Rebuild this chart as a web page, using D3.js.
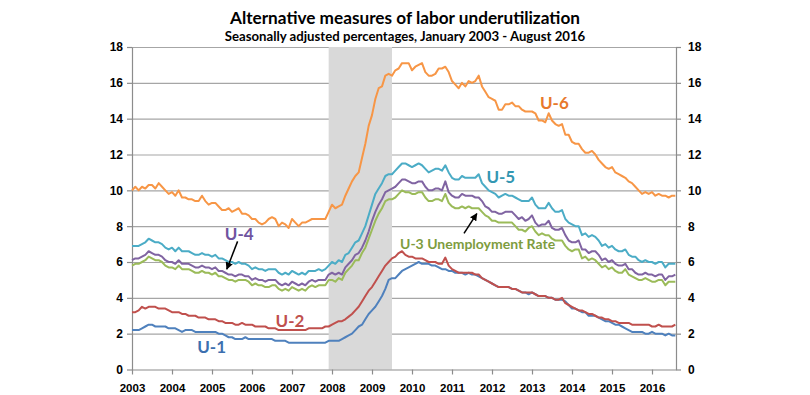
<!DOCTYPE html>
<html>
<head>
<meta charset="utf-8">
<title>Alternative measures of labor underutilization</title>
<script src="https://cdn.jsdelivr.net/npm/d3@7"></script>
<style>
  html, body { margin: 0; padding: 0; background: #fff; }
  svg { display: block; font-family: Lato, "Open Sans", sans-serif; }
  .grid line { stroke: #a6a6a6; stroke-width: 1.2; }
  .grid path { display: none; }
  .axis path, .axis line { stroke: #8c8c8c; stroke-width: 1.2; }
  .axis text { font-weight: bold; fill: #000; font-size: 11.5px; }
  .axis.y text { font-size: 12px; }
  .series { fill: none; stroke-width: 2; stroke-linejoin: round; }
  .note { font-weight: bold; }
</style>
</head>
<body>
<svg id="chart" width="810" height="395"></svg>
<script>
// tick labels
var years = [2003, 2004, 2005, 2006, 2007, 2008, 2009, 2010, 2011, 2012, 2013, 2014, 2015, 2016];
var yTicks = [0, 2, 4, 6, 8, 10, 12, 14, 16, 18];

// recession shading, Dec 2007 - Jun 2009 (fractional years)
var recession = [2007 + 11 / 12, 2009.5];

// monthly values, Jan 2003 - Aug 2016, one row per year
var u1 = [
  2.2, 2.2, 2.2, 2.3, 2.4, 2.5, 2.5, 2.4, 2.4, 2.4, 2.4, 2.3,
  2.3, 2.3, 2.2, 2.1, 2.2, 2.2, 2.2, 2.1, 2.1, 2.1, 2.1, 2.1,
  2.1, 2.1, 2.0, 2.0, 1.9, 1.8, 1.8, 1.7, 1.7, 1.7, 1.8, 1.7,
  1.7, 1.7, 1.7, 1.7, 1.7, 1.7, 1.7, 1.6, 1.6, 1.6, 1.6, 1.5,
  1.5, 1.5, 1.5, 1.5, 1.5, 1.5, 1.5, 1.5, 1.5, 1.5, 1.5, 1.6,
  1.6, 1.6, 1.6, 1.7, 1.8, 1.9, 2.0, 2.2, 2.4, 2.5, 2.8, 3.1,
  3.3, 3.5, 3.8, 4.1, 4.5, 5.0, 5.1, 5.1, 5.3, 5.5, 5.6, 5.7,
  5.8, 5.9, 6.0, 5.9, 5.9, 5.9, 5.8, 5.8, 5.7, 5.6, 5.6, 5.5,
  5.5, 5.4, 5.4, 5.4, 5.3, 5.4, 5.3, 5.3, 5.2, 5.1, 5.0, 4.9,
  4.8, 4.7, 4.6, 4.6, 4.6, 4.6, 4.5, 4.5, 4.4, 4.3, 4.3, 4.2,
  4.3, 4.2, 4.1, 4.1, 4.1, 4.0, 4.0, 3.9, 3.9, 3.9, 3.8, 3.6,
  3.4, 3.4, 3.3, 3.2, 3.2, 3.0, 3.0, 3.0, 2.9, 2.8, 2.7, 2.7,
  2.6, 2.5, 2.5, 2.4, 2.3, 2.2, 2.1, 2.1, 2.1, 2.1, 2.0, 2.0,
  2.1, 2.0, 2.0, 2.0, 1.9, 2.0, 1.9, 1.9
];
var u2 = [
  3.2, 3.2, 3.3, 3.5, 3.4, 3.5, 3.5, 3.5, 3.4, 3.4, 3.4, 3.3,
  3.2, 3.2, 3.2, 3.1, 3.1, 3.0, 3.0, 3.0, 2.9, 2.9, 2.9, 2.8,
  2.8, 2.8, 2.7, 2.7, 2.6, 2.6, 2.6, 2.5, 2.5, 2.6, 2.5, 2.5,
  2.5, 2.4, 2.4, 2.4, 2.4, 2.3, 2.3, 2.3, 2.2, 2.2, 2.2, 2.2,
  2.2, 2.2, 2.2, 2.2, 2.2, 2.3, 2.3, 2.3, 2.3, 2.3, 2.4, 2.4,
  2.5, 2.6, 2.7, 2.7, 2.8, 2.95, 3.1, 3.3, 3.5, 3.8, 4.1, 4.4,
  4.6, 4.9, 5.2, 5.5, 5.8, 6.0, 6.2, 6.3, 6.5, 6.6, 6.4, 6.3,
  6.3, 6.2, 6.2, 6.2, 6.1, 6.0, 6.0, 6.0, 5.9, 5.9, 6.25, 5.8,
  5.6, 5.5, 5.4, 5.4, 5.4, 5.4, 5.4, 5.3, 5.3, 5.1, 5.0, 4.9,
  4.8, 4.7, 4.6, 4.6, 4.6, 4.6, 4.5, 4.5, 4.4, 4.3, 4.3, 4.3,
  4.3, 4.2, 4.1, 4.1, 4.1, 4.0, 4.0, 3.9, 3.9, 4.0, 3.7, 3.6,
  3.5, 3.4, 3.3, 3.3, 3.2, 3.1, 3.1, 3.0, 2.9, 2.9, 2.8, 2.8,
  2.7, 2.7, 2.6, 2.6, 2.6, 2.6, 2.5, 2.5, 2.5, 2.5, 2.5, 2.5,
  2.4, 2.4, 2.5, 2.4, 2.4, 2.4, 2.4, 2.5
];
var u3 = [
  5.8, 5.9, 5.9, 6.0, 6.1, 6.3, 6.2, 6.1, 6.1, 6.0, 5.8, 5.7,
  5.7, 5.6, 5.8, 5.6, 5.6, 5.6, 5.5, 5.4, 5.4, 5.5, 5.4, 5.4,
  5.3, 5.4, 5.2, 5.2, 5.1, 5.0, 5.0, 4.9, 5.0, 5.0, 5.0, 4.9,
  4.7, 4.8, 4.7, 4.7, 4.6, 4.6, 4.7, 4.7, 4.5, 4.4, 4.5, 4.4,
  4.6, 4.5, 4.4, 4.5, 4.4, 4.6, 4.7, 4.6, 4.7, 4.7, 4.7, 5.0,
  5.0, 4.9, 5.1, 5.0, 5.4, 5.6, 5.8, 6.1, 6.1, 6.5, 6.8, 7.3,
  7.8, 8.3, 8.7, 9.0, 9.4, 9.5, 9.5, 9.6, 9.8, 10.0, 9.9, 9.9,
  9.8, 9.8, 9.9, 9.9, 9.6, 9.4, 9.4, 9.5, 9.5, 9.4, 9.8, 9.3,
  9.1, 9.0, 9.0, 9.1, 9.0, 9.1, 9.0, 9.0, 9.0, 8.8, 8.6, 8.5,
  8.3, 8.3, 8.2, 8.2, 8.2, 8.2, 8.2, 8.0, 7.8, 7.8, 7.7, 7.9,
  8.0, 7.7, 7.5, 7.6, 7.5, 7.5, 7.3, 7.2, 7.2, 7.2, 6.9, 6.7,
  6.6, 6.7, 6.7, 6.2, 6.3, 6.1, 6.2, 6.1, 5.9, 5.7, 5.8, 5.6,
  5.7, 5.5, 5.4, 5.4, 5.6, 5.3, 5.2, 5.1, 5.0, 5.0, 5.1, 5.0,
  4.9, 4.9, 5.0, 5.0, 4.7, 4.9, 4.9, 4.9
];
var u4 = [
  6.1, 6.2, 6.2, 6.3, 6.4, 6.6, 6.5, 6.4, 6.4, 6.3, 6.1, 6.0,
  6.0, 5.9, 6.1, 5.9, 5.9, 5.9, 5.8, 5.7, 5.7, 5.8, 5.7, 5.7,
  5.6, 5.7, 5.5, 5.5, 5.4, 5.3, 5.3, 5.2, 5.3, 5.3, 5.2, 5.2,
  5.0, 5.1, 5.0, 5.0, 4.9, 5.0, 5.0, 5.0, 4.8, 4.7, 4.8, 4.7,
  4.9, 4.8, 4.7, 4.8, 4.7, 4.9, 5.0, 4.9, 5.0, 5.0, 5.0, 5.3,
  5.4, 5.3, 5.4, 5.3, 5.7, 5.9, 6.1, 6.4, 6.5, 6.8, 7.2, 7.7,
  8.3, 8.8, 9.2, 9.5, 9.9, 10.0, 10.1, 10.2, 10.4, 10.6, 10.6, 10.5,
  10.4, 10.4, 10.5, 10.5, 10.2, 10.0, 10.0, 10.1, 10.1, 10.0, 10.5, 9.9,
  9.7, 9.6, 9.6, 9.8, 9.7, 9.7, 9.7, 9.6, 9.6, 9.4, 9.1, 9.0,
  8.8, 8.8, 8.7, 8.7, 8.8, 8.8, 8.8, 8.6, 8.4, 8.5, 8.3, 8.4,
  8.6, 8.2, 8.0, 8.1, 8.1, 8.3, 7.9, 7.8, 7.8, 7.9, 7.5, 7.2,
  7.1, 7.1, 7.2, 6.7, 6.7, 6.5, 6.6, 6.6, 6.4, 6.1, 6.2, 6.0,
  6.1, 5.9, 5.8, 5.8, 5.9, 5.6, 5.6, 5.4, 5.3, 5.3, 5.4, 5.3,
  5.3, 5.2, 5.3, 5.3, 5.0, 5.2, 5.2, 5.3
];
var u5 = [
  6.9, 6.9, 6.9, 7.0, 7.1, 7.3, 7.2, 7.1, 7.1, 7.0, 6.8, 6.7,
  6.8, 6.6, 6.8, 6.6, 6.6, 6.6, 6.5, 6.4, 6.4, 6.5, 6.4, 6.4,
  6.3, 6.4, 6.2, 6.2, 6.1, 6.0, 6.0, 5.9, 6.0, 5.9, 5.9, 5.8,
  5.6, 5.7, 5.6, 5.6, 5.5, 5.6, 5.6, 5.6, 5.4, 5.3, 5.4, 5.3,
  5.5, 5.4, 5.3, 5.4, 5.3, 5.5, 5.5, 5.5, 5.6, 5.5, 5.6, 5.8,
  6.0, 5.9, 6.1, 6.0, 6.4, 6.5, 6.8, 7.1, 7.2, 7.6, 8.0, 8.6,
  9.2, 9.8, 10.1, 10.4, 10.8, 10.9, 10.9, 11.1, 11.3, 11.5, 11.5, 11.4,
  11.3, 11.4, 11.5, 11.4, 11.2, 11.0, 11.1, 11.2, 11.2, 11.1, 11.4, 11.0,
  10.7, 10.6, 10.6, 10.8, 10.7, 10.7, 10.7, 10.7, 10.9, 10.4, 10.2, 10.0,
  9.9, 9.8, 9.6, 9.7, 9.8, 9.7, 9.7, 9.6, 9.5, 9.4, 9.4, 9.4,
  9.6, 9.2, 9.0, 9.0, 9.0, 9.3, 9.0, 8.8, 8.8, 8.9, 8.4, 8.2,
  8.1, 8.0, 8.0, 7.5, 7.6, 7.4, 7.5, 7.4, 7.2, 6.9, 7.0, 6.8,
  6.9, 6.7, 6.6, 6.6, 6.7, 6.4, 6.3, 6.3, 6.1, 6.0, 6.1, 6.0,
  6.0, 5.9, 6.0, 6.0, 5.7, 5.9, 5.9, 5.9
];
var u6 = [
  10.0, 10.2, 10.0, 10.2, 10.1, 10.3, 10.3, 10.1, 10.4, 10.2, 10.0, 9.8,
  9.9, 9.7, 10.0, 9.6, 9.6, 9.5, 9.5, 9.4, 9.4, 9.7, 9.4, 9.2,
  9.3, 9.3, 9.1, 8.9, 8.9, 9.0, 8.8, 8.9, 9.0, 8.7, 8.7, 8.6,
  8.4, 8.4, 8.2, 8.1, 8.2, 8.4, 8.5, 8.4, 8.0, 8.2, 8.1, 7.9,
  8.4, 8.2, 8.0, 8.2, 8.2, 8.3, 8.4, 8.4, 8.4, 8.4, 8.4, 8.8,
  9.2, 9.0, 9.1, 9.2, 9.7, 10.1, 10.5, 10.8, 11.0, 11.8, 12.6, 13.6,
  14.2, 15.1, 15.7, 15.8, 16.4, 16.5, 16.4, 16.7, 16.8, 17.1, 17.1, 17.1,
  16.7, 16.9, 17.0, 17.1, 16.6, 16.4, 16.4, 16.5, 16.8, 16.8, 16.9, 16.6,
  16.1, 15.9, 15.7, 16.0, 15.8, 16.1, 16.0, 16.1, 16.4, 15.8, 15.5, 15.2,
  15.1, 15.0, 14.5, 14.5, 14.8, 14.8, 14.9, 14.7, 14.7, 14.5, 14.4, 14.4,
  14.4, 14.3, 13.9, 13.9, 13.8, 14.3, 13.9, 13.7, 13.6, 13.7, 13.1, 13.1,
  12.7, 12.6, 12.6, 12.3, 12.1, 12.1, 12.2, 12.0, 11.7, 11.5, 11.3, 11.2,
  11.3, 11.0, 10.9, 10.8, 10.7, 10.5, 10.4, 10.2, 10.0, 9.8, 9.9, 9.8,
  9.9, 9.7, 9.8, 9.7, 9.7, 9.6, 9.7, 9.7
];
var seriesNames = ["U-1", "U-2", "U-3", "U-4", "U-5", "U-6"];
var seriesValues = [u1, u2, u3, u4, u5, u6];

(function () {
  "use strict";

  var left = 132, right = 676, top = 47, bottom = 369.5;
  var colors = {
    "U-1": "#4F81BD", "U-2": "#C0504D", "U-3": "#9BBB59",
    "U-4": "#8064A2", "U-5": "#4BACC6", "U-6": "#F79646"
  };

  var x = d3.scaleLinear().domain([2003, 2016.6]).range([left, right]);
  var y = d3.scaleLinear().domain([0, 18]).range([bottom, top]);

  var svg = d3.select('#chart');

  svg.append('rect')
      .attr('width', 810)
      .attr('height', 395)
      .attr('fill', '#fff');

  // title
  svg.append('text')
      .attr('x', 405)
      .attr('y', 23.5)
      .attr('text-anchor', 'middle')
      .style('font-size', '17.2px')
      .style('font-weight', 'bold')
      .text('Alternative measures of labor underutilization');

  svg.append('text')
      .attr('x', 405)
      .attr('y', 40.5)
      .attr('text-anchor', 'middle')
      .style('font-size', '13.2px')
      .style('font-weight', 'bold')
      .text('Seasonally adjusted percentages, January 2003 - August 2016');

  // gridlines
  svg.append('g')
      .attr('class', 'grid')
      .attr('transform', 'translate(' + left + ',0)')
      .call(d3.axisLeft(y).tickValues(yTicks.slice(1)).tickSize(-(right - left)).tickFormat(''));

  // recession shading sits over the grid
  svg.append('rect')
      .attr('x', x(recession[0]))
      .attr('y', y(18))
      .attr('width', x(recession[1]) - x(recession[0]))
      .attr('height', y(0) - y(18))
      .attr('fill', '#d9d9d9');

  // axes
  svg.append('g')
      .attr('class', 'axis y')
      .attr('transform', 'translate(' + left + ',0)')
      .call(d3.axisLeft(y).tickValues(yTicks).tickSize(5).tickSizeOuter(0).tickPadding(4));

  svg.append('g')
      .attr('class', 'axis y')
      .attr('transform', 'translate(' + right + ',0)')
      .call(d3.axisRight(y).tickValues(yTicks).tickSize(5).tickSizeOuter(0).tickPadding(7));

  svg.append('g')
      .attr('class', 'axis')
      .attr('transform', 'translate(0,' + bottom + ')')
      .call(d3.axisBottom(x).tickValues(years).tickFormat(d3.format('d')).tickSize(5).tickSizeOuter(0).tickPadding(9));

  // series
  var line = d3.line()
      .x(function (d, i) { return x(2003 + i / 12); })
      .y(function (d) { return y(d); });

  svg.append('g')
    .selectAll('path')
      .data(seriesValues)
    .enter().append('path')
      .attr('class', 'series')
      .attr('stroke', function (d, i) { return colors[seriesNames[i]]; })
      .attr('d', line);

  // labels, anchored in data space
  var notes = [
    { text: 'U-6', t: 2013.56, v: 14.52, color: '#E8782C', size: 17, anchor: 'middle' },
    { text: 'U-5', t: 2012.22, v: 10.4, color: '#3497B2', size: 17, anchor: 'middle' },
    { text: 'U-4', t: 2005.68, v: 7.23, color: '#7054A0', size: 17, anchor: 'middle' },
    { text: 'U-2', t: 2006.95, v: 2.39, color: '#C0504D', size: 17, anchor: 'middle' },
    { text: 'U-1', t: 2004.99, v: 0.9, color: '#3D6FAF', size: 17, anchor: 'middle' },
    { text: 'U-3 Unemployment Rate', t: 2009.7, v: 6.71, color: '#7E9C3E', size: 14, anchor: 'start' }
  ];

  svg.append('g')
    .selectAll('text')
      .data(notes)
    .enter().append('text')
      .attr('class', 'note')
      .attr('x', function (d) { return x(d.t); })
      .attr('y', function (d) { return y(d.v); })
      .attr('text-anchor', function (d) { return d.anchor; })
      .attr('fill', function (d) { return d.color; })
      .style('font-size', function (d) { return d.size + 'px'; })
      .text(function (d) { return d.text; });

  // arrows
  svg.append('defs').append('marker')
      .attr('id', 'head')
      .attr('viewBox', '0 0 10 10')
      .attr('refX', 9)
      .attr('refY', 5)
      .attr('markerWidth', 5)
      .attr('markerHeight', 5)
      .attr('orient', 'auto')
    .append('path')
      .attr('d', 'M0,0L10,5L0,10z')
      .attr('fill', '#000');

  var arrows = [
    { t0: 2005.64, v0: 7.15, t1: 2005.37, v1: 5.6 },
    { t0: 2011.3, v0: 7.6, t1: 2011.62, v1: 8.7 }
  ];

  svg.append('g')
    .selectAll('line')
      .data(arrows)
    .enter().append('line')
      .attr('x1', function (d) { return x(d.t0); })
      .attr('y1', function (d) { return y(d.v0); })
      .attr('x2', function (d) { return x(d.t1); })
      .attr('y2', function (d) { return y(d.v1); })
      .attr('stroke', '#000')
      .attr('stroke-width', 1.5)
      .attr('marker-end', 'url(#head)');
}());
</script>
</body>
</html>
